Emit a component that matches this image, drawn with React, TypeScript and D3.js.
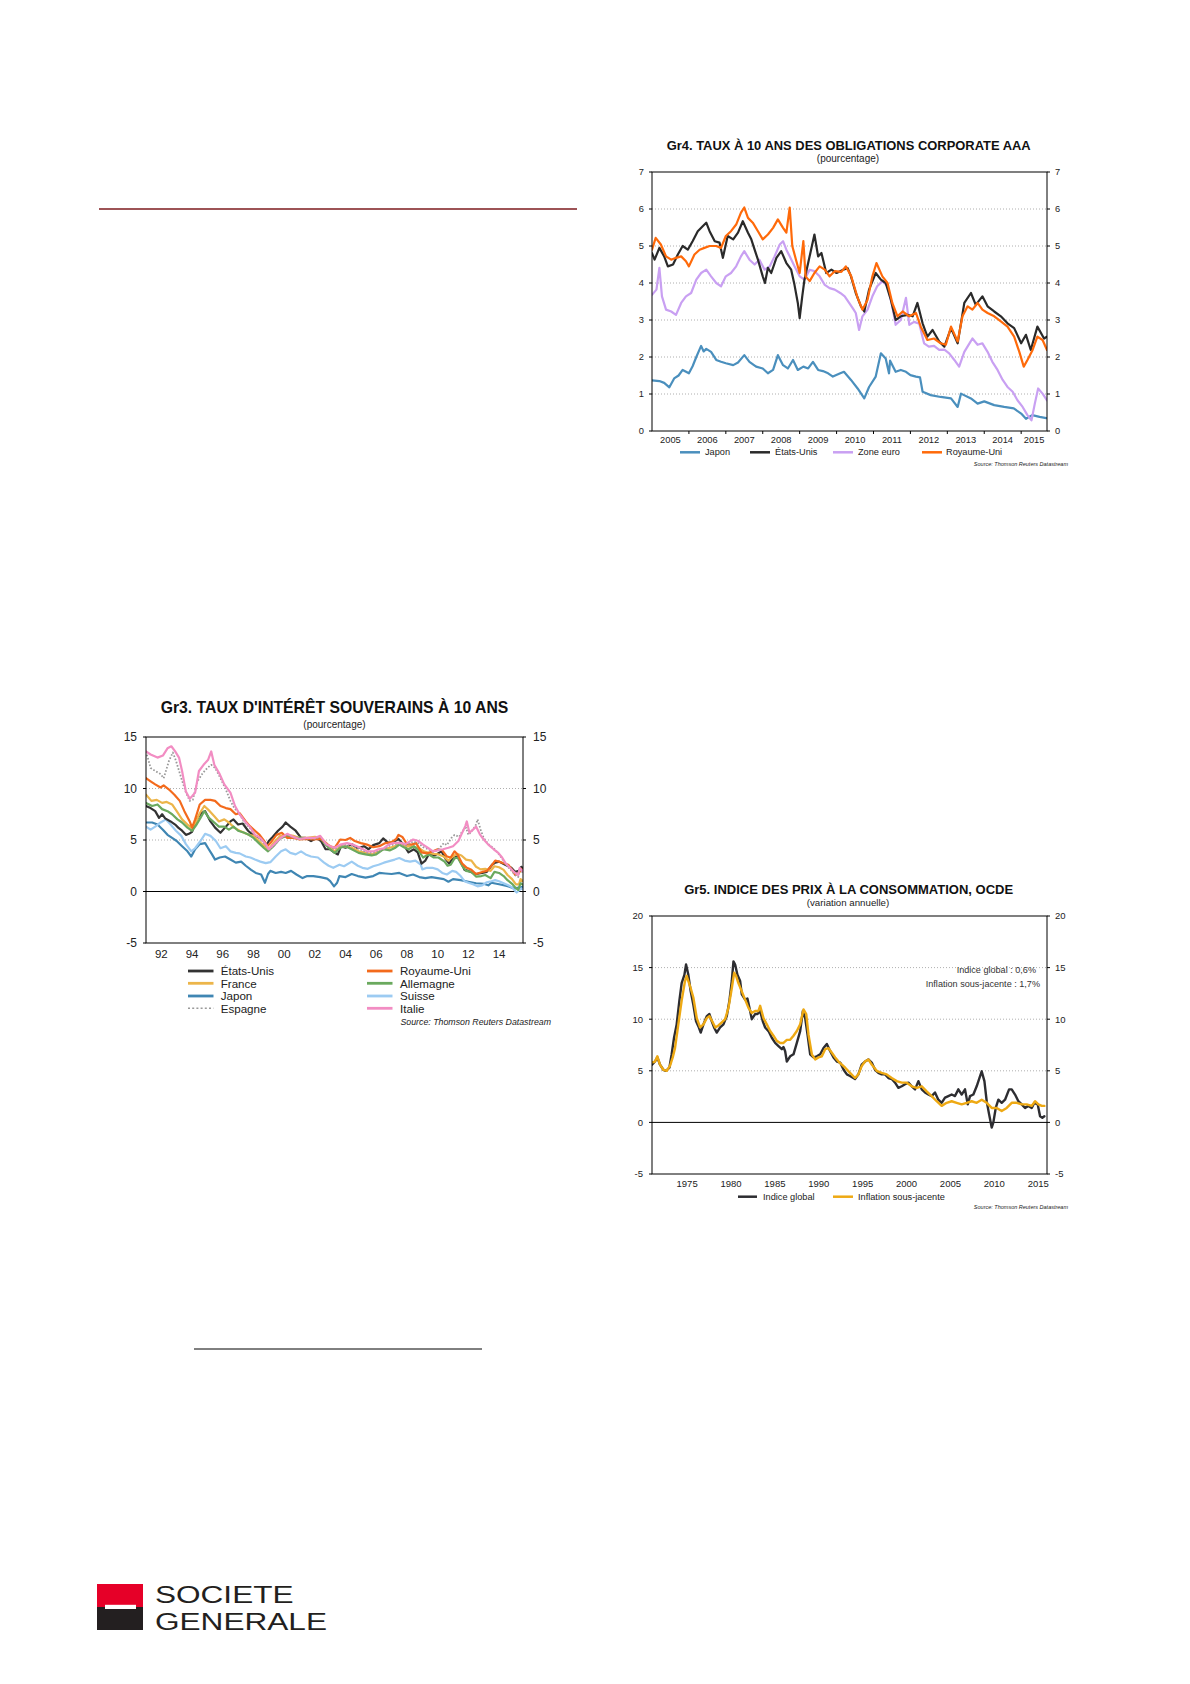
import React from 'react';
import * as d3 from 'd3';

type Pt = [number, number];
const FONT = '"Liberation Sans", Arial, Helvetica, sans-serif';

// ---------------- Gr4 data ----------------
const gr4YTicks = [0, 1, 2, 3, 4, 5, 6, 7];
const gr4Years = [2005, 2006, 2007, 2008, 2009, 2010, 2011, 2012, 2013, 2014, 2015];
const gr4Japon: Pt[] = [[2005.0,1.37],[2005.2,1.35],[2005.33,1.3],[2005.47,1.18],[2005.6,1.42],[2005.72,1.5],[2005.83,1.65],[2006.0,1.56],[2006.1,1.75],[2006.2,2.0],[2006.33,2.3],[2006.4,2.15],[2006.47,2.22],[2006.6,2.14],[2006.74,1.92],[2006.87,1.87],[2007.0,1.83],[2007.2,1.78],[2007.33,1.85],[2007.5,2.05],[2007.64,1.87],[2007.82,1.74],[2008.0,1.69],[2008.14,1.56],[2008.28,1.65],[2008.41,2.05],[2008.55,1.78],[2008.68,1.69],[2008.82,1.92],[2008.95,1.65],[2009.1,1.74],[2009.23,1.69],[2009.36,1.87],[2009.5,1.65],[2009.63,1.62],[2009.77,1.56],[2009.9,1.47],[2010.1,1.56],[2010.2,1.6],[2010.39,1.38],[2010.57,1.15],[2010.75,0.88],[2010.88,1.19],[2011.06,1.47],[2011.2,2.1],[2011.33,1.96],[2011.42,1.56],[2011.45,1.9],[2011.6,1.6],[2011.74,1.65],[2011.88,1.6],[2012.0,1.51],[2012.15,1.47],[2012.26,1.45],[2012.33,1.06],[2012.55,0.97],[2012.82,0.92],[2013.1,0.88],[2013.28,0.65],[2013.37,1.01],[2013.64,0.88],[2013.82,0.74],[2014.0,0.8],[2014.27,0.7],[2014.54,0.65],[2014.8,0.61],[2015.0,0.47],[2015.13,0.33],[2015.3,0.43],[2015.5,0.38],[2015.68,0.35]];
const gr4EtatsUnis: Pt[] = [[2005.0,4.81],[2005.07,4.63],[2005.2,4.95],[2005.33,4.72],[2005.43,4.45],[2005.57,4.5],[2005.7,4.77],[2005.83,5.0],[2005.97,4.9],[2006.1,5.13],[2006.24,5.4],[2006.38,5.54],[2006.47,5.63],[2006.56,5.4],[2006.7,5.13],[2006.83,5.09],[2006.92,4.68],[2007.05,5.27],[2007.2,5.18],[2007.33,5.36],[2007.46,5.67],[2007.6,5.36],[2007.69,5.18],[2007.78,4.9],[2007.87,4.63],[2008.0,4.18],[2008.06,4.0],[2008.14,4.41],[2008.23,4.27],[2008.37,4.68],[2008.5,4.86],[2008.64,4.54],[2008.77,4.36],[2008.86,3.95],[2008.95,3.46],[2009.0,3.05],[2009.07,3.64],[2009.13,4.09],[2009.27,4.72],[2009.4,5.31],[2009.5,4.72],[2009.59,4.81],[2009.72,4.27],[2009.86,4.36],[2010.0,4.27],[2010.18,4.36],[2010.3,4.4],[2010.39,4.18],[2010.52,3.73],[2010.66,3.37],[2010.75,3.23],[2010.88,3.82],[2011.06,4.27],[2011.2,4.09],[2011.33,4.0],[2011.47,3.55],[2011.6,3.0],[2011.74,3.1],[2011.92,3.14],[2012.06,3.1],[2012.19,3.46],[2012.33,2.91],[2012.46,2.55],[2012.6,2.73],[2012.78,2.42],[2012.92,2.28],[2013.1,2.78],[2013.28,2.37],[2013.46,3.46],[2013.64,3.73],[2013.77,3.41],[2013.95,3.64],[2014.09,3.37],[2014.27,3.23],[2014.45,3.1],[2014.63,2.91],[2014.81,2.78],[2015.0,2.37],[2015.13,2.6],[2015.26,2.19],[2015.44,2.82],[2015.62,2.5],[2015.7,2.55]];
const gr4ZoneEuro: Pt[] = [[2005.0,3.68],[2005.12,3.82],[2005.2,4.41],[2005.27,3.64],[2005.38,3.28],[2005.52,3.23],[2005.65,3.14],[2005.79,3.46],[2005.92,3.64],[2006.06,3.73],[2006.2,4.09],[2006.33,4.27],[2006.47,4.36],[2006.6,4.18],[2006.74,4.0],[2006.87,3.91],[2007.0,4.18],[2007.14,4.27],[2007.28,4.45],[2007.41,4.72],[2007.5,4.86],[2007.64,4.63],[2007.78,4.5],[2007.91,4.63],[2008.05,4.36],[2008.19,4.45],[2008.32,4.72],[2008.46,5.04],[2008.55,5.13],[2008.64,4.9],[2008.73,4.72],[2008.86,4.45],[2009.0,4.18],[2009.13,4.09],[2009.27,4.36],[2009.4,4.32],[2009.54,4.18],[2009.68,3.95],[2009.81,3.86],[2009.95,3.82],[2010.1,3.73],[2010.22,3.64],[2010.34,3.46],[2010.45,3.3],[2010.52,3.19],[2010.61,2.73],[2010.7,3.1],[2010.84,3.28],[2010.97,3.64],[2011.1,3.91],[2011.24,4.05],[2011.38,3.91],[2011.51,3.37],[2011.6,2.87],[2011.74,3.0],[2011.88,3.6],[2011.97,2.87],[2012.1,2.95],[2012.24,2.9],[2012.37,2.37],[2012.5,2.28],[2012.64,2.3],[2012.78,2.19],[2012.92,2.2],[2013.05,2.1],[2013.19,1.92],[2013.32,1.74],[2013.46,2.14],[2013.6,2.37],[2013.68,2.5],[2013.82,2.33],[2013.95,2.37],[2014.09,2.14],[2014.22,1.87],[2014.36,1.65],[2014.5,1.38],[2014.63,1.19],[2014.77,1.06],[2014.9,0.83],[2015.04,0.65],[2015.17,0.43],[2015.28,0.29],[2015.37,0.74],[2015.46,1.15],[2015.58,1.01],[2015.7,0.83]];
const gr4RoyaumeUni: Pt[] = [[2005.0,4.9],[2005.1,5.22],[2005.24,5.04],[2005.38,4.72],[2005.52,4.63],[2005.65,4.68],[2005.79,4.72],[2005.92,4.59],[2006.0,4.45],[2006.15,4.77],[2006.29,4.9],[2006.42,4.95],[2006.56,5.0],[2006.74,5.0],[2006.87,4.95],[2007.0,5.27],[2007.14,5.4],[2007.28,5.58],[2007.41,5.9],[2007.5,6.04],[2007.6,5.76],[2007.73,5.63],[2007.87,5.4],[2008.0,5.18],[2008.14,5.31],[2008.28,5.49],[2008.41,5.72],[2008.55,5.49],[2008.64,5.36],[2008.73,6.04],[2008.8,5.0],[2008.9,4.63],[2009.0,4.27],[2009.1,5.13],[2009.16,4.18],[2009.27,4.05],[2009.4,4.27],[2009.54,4.45],[2009.68,4.36],[2009.81,4.18],[2009.95,4.32],[2010.13,4.3],[2010.25,4.45],[2010.39,4.2],[2010.57,3.6],[2010.7,3.28],[2010.84,3.55],[2010.97,4.18],[2011.08,4.54],[2011.24,4.18],[2011.38,4.0],[2011.51,3.46],[2011.65,3.1],[2011.79,3.23],[2011.97,3.1],[2012.15,3.19],[2012.28,2.82],[2012.46,2.46],[2012.64,2.5],[2012.82,2.37],[2012.96,2.33],[2013.1,2.82],[2013.28,2.42],[2013.41,3.1],[2013.55,3.37],[2013.68,3.28],[2013.82,3.46],[2013.95,3.28],[2014.09,3.19],[2014.27,3.1],[2014.45,2.96],[2014.63,2.82],[2014.81,2.55],[2014.95,2.14],[2015.07,1.74],[2015.17,1.92],[2015.31,2.19],[2015.44,2.55],[2015.58,2.46],[2015.7,2.19]];

// ---------------- Gr3 data ----------------
const gr3YTicks = [-5, 0, 5, 10, 15];
const gr3XTicks = [1992, 1994, 1996, 1998, 2000, 2002, 2004, 2006, 2008, 2010, 2012, 2014];
const gr3XLabels = ['92', '94', '96', '98', '00', '02', '04', '06', '08', '10', '12', '14'];
const gr3EtatsUnis: Pt[] = [[1991.0,8.3],[1991.3,8.1],[1991.6,7.8],[1991.85,7.15],[1992.05,7.5],[1992.25,7.1],[1992.6,6.8],[1992.9,6.5],[1993.1,6.2],[1993.35,5.9],[1993.6,5.5],[1993.8,5.6],[1994.0,5.8],[1994.3,7.0],[1994.6,7.6],[1994.85,7.8],[1995.2,6.8],[1995.5,6.2],[1995.85,5.7],[1996.15,6.2],[1996.5,6.8],[1996.7,7.0],[1997.0,6.5],[1997.3,6.6],[1997.65,5.9],[1997.95,5.5],[1998.3,5.3],[1998.6,5.0],[1998.85,4.5],[1999.0,4.9],[1999.25,5.3],[1999.6,5.9],[1999.9,6.3],[2000.1,6.7],[2000.4,6.3],[2000.75,5.9],[2001.1,5.2],[2001.4,5.2],[2001.75,4.9],[2002.1,5.2],[2002.4,4.9],[2002.7,4.1],[2003.0,4.1],[2003.3,3.75],[2003.5,3.6],[2003.7,4.4],[2004.0,4.25],[2004.4,4.6],[2004.8,4.2],[2005.2,4.4],[2005.5,4.1],[2005.8,4.5],[2006.2,4.7],[2006.45,5.15],[2006.8,4.7],[2007.1,4.8],[2007.45,5.1],[2007.8,4.5],[2008.1,3.8],[2008.45,4.1],[2008.7,3.8],[2008.95,2.7],[2009.2,3.0],[2009.45,3.7],[2009.8,3.5],[2010.25,3.9],[2010.5,3.2],[2010.75,2.7],[2011.05,3.4],[2011.3,3.4],[2011.6,2.6],[2011.75,2.1],[2012.0,2.0],[2012.5,1.7],[2012.9,1.8],[2013.2,1.9],[2013.55,2.6],[2013.75,2.8],[2014.0,2.9],[2014.4,2.6],[2014.8,2.3],[2015.05,1.9],[2015.3,2.0],[2015.45,2.4],[2015.56,2.2]];
const gr3RoyaumeUni: Pt[] = [[1991.0,11.0],[1991.3,10.7],[1991.6,10.4],[1991.95,10.1],[1992.15,10.3],[1992.5,9.9],[1992.85,9.4],[1993.2,8.8],[1993.5,7.8],[1993.85,6.8],[1994.0,6.2],[1994.2,7.0],[1994.5,8.45],[1994.85,8.9],[1995.2,8.9],[1995.5,8.8],[1995.85,8.3],[1996.2,8.1],[1996.5,8.0],[1996.85,7.5],[1997.1,7.6],[1997.5,6.8],[1997.8,6.3],[1998.1,5.9],[1998.4,5.5],[1998.7,4.9],[1998.9,4.4],[1999.1,4.7],[1999.5,5.5],[1999.85,5.7],[2000.2,5.2],[2000.6,5.2],[2001.0,5.05],[2001.5,5.1],[2001.9,5.05],[2002.4,5.1],[2002.8,4.6],[2003.0,4.4],[2003.3,4.25],[2003.65,5.05],[2004.0,5.0],[2004.3,5.2],[2004.6,4.9],[2005.0,4.7],[2005.4,4.55],[2005.8,4.3],[2006.2,4.4],[2006.6,4.7],[2007.0,4.8],[2007.3,5.1],[2007.45,5.5],[2007.7,5.3],[2008.0,4.6],[2008.3,4.55],[2008.6,4.7],[2008.95,3.8],[2009.3,3.7],[2009.7,3.9],[2010.0,4.1],[2010.3,4.0],[2010.6,3.4],[2010.85,3.3],[2011.1,3.9],[2011.3,3.6],[2011.6,2.7],[2011.9,2.3],[2012.2,2.1],[2012.5,1.7],[2012.9,1.9],[2013.2,2.0],[2013.5,2.5],[2013.75,3.0],[2014.0,2.9],[2014.3,2.75],[2014.6,2.6],[2014.85,2.1],[2015.05,1.6],[2015.3,1.8],[2015.45,2.2],[2015.56,2.0]];
const gr3France: Pt[] = [[1991.0,9.4],[1991.35,8.8],[1991.7,8.9],[1992.05,8.6],[1992.35,8.7],[1992.7,8.45],[1993.0,7.8],[1993.35,7.0],[1993.7,6.5],[1993.95,6.2],[1994.2,6.6],[1994.5,7.6],[1994.8,8.3],[1995.15,7.8],[1995.45,7.3],[1995.75,6.8],[1996.1,7.0],[1996.4,6.7],[1996.75,6.2],[1997.1,5.9],[1997.4,5.7],[1997.7,5.5],[1998.0,5.4],[1998.35,4.9],[1998.7,4.4],[1999.0,4.1],[1999.3,4.7],[1999.75,5.4],[2000.2,5.5],[2000.6,5.4],[2001.0,5.2],[2001.5,5.2],[2002.0,5.3],[2002.4,5.2],[2002.8,4.6],[2003.0,4.25],[2003.3,3.9],[2003.65,4.4],[2004.0,4.35],[2004.4,4.25],[2004.85,3.9],[2005.3,3.75],[2005.7,3.6],[2006.0,3.75],[2006.45,4.1],[2006.9,4.25],[2007.35,4.45],[2007.5,4.6],[2007.8,4.4],[2008.3,4.35],[2008.75,4.25],[2009.1,3.9],[2009.4,3.75],[2009.75,3.65],[2010.05,3.6],[2010.4,3.4],[2010.7,3.0],[2010.9,3.3],[2011.25,3.65],[2011.55,3.5],[2011.85,3.1],[2012.2,3.0],[2012.5,2.4],[2012.8,2.15],[2013.1,2.2],[2013.45,2.0],[2013.7,2.45],[2014.0,2.35],[2014.3,2.1],[2014.55,1.6],[2014.85,1.2],[2015.1,0.7],[2015.3,0.7],[2015.4,1.2],[2015.56,1.0]];
const gr3Allemagne: Pt[] = [[1991.0,8.6],[1991.4,8.3],[1991.75,8.45],[1992.05,8.0],[1992.4,7.8],[1992.7,7.5],[1993.05,7.0],[1993.35,6.7],[1993.7,6.2],[1994.0,5.9],[1994.25,6.4],[1994.55,7.15],[1994.8,7.8],[1995.1,7.15],[1995.45,6.7],[1995.75,6.3],[1996.1,6.3],[1996.4,6.0],[1996.7,6.3],[1997.0,5.9],[1997.4,5.7],[1997.7,5.5],[1998.0,5.2],[1998.35,4.7],[1998.7,4.2],[1998.95,3.9],[1999.3,4.4],[1999.75,5.2],[2000.2,5.4],[2000.6,5.2],[2001.0,5.2],[2001.5,5.1],[2002.0,5.1],[2002.4,5.1],[2002.8,4.4],[2003.0,4.1],[2003.3,3.75],[2003.65,4.25],[2004.0,4.4],[2004.4,4.1],[2004.85,3.75],[2005.3,3.6],[2005.7,3.5],[2006.0,3.6],[2006.45,4.1],[2006.9,4.0],[2007.25,4.25],[2007.5,4.55],[2007.8,4.3],[2008.1,4.1],[2008.45,4.4],[2008.75,4.0],[2009.05,3.3],[2009.4,3.6],[2009.75,3.3],[2010.05,3.3],[2010.45,2.9],[2010.65,2.5],[2010.85,2.6],[2011.1,3.2],[2011.3,3.3],[2011.6,2.5],[2011.85,2.0],[2012.2,1.9],[2012.5,1.45],[2012.85,1.5],[2013.1,1.6],[2013.45,1.3],[2013.7,1.9],[2014.0,1.8],[2014.3,1.5],[2014.55,1.1],[2014.85,0.75],[2015.05,0.4],[2015.25,0.15],[2015.4,0.8],[2015.56,0.65]];
const gr3Japon: Pt[] = [[1991.0,6.7],[1991.4,6.7],[1991.75,6.5],[1992.1,6.0],[1992.4,5.5],[1992.7,5.2],[1993.0,4.9],[1993.35,4.4],[1993.7,3.9],[1993.95,3.4],[1994.2,4.1],[1994.5,4.6],[1994.85,4.7],[1995.05,4.2],[1995.3,3.6],[1995.5,3.1],[1995.8,3.3],[1996.15,3.4],[1996.5,3.1],[1996.85,2.8],[1997.2,2.9],[1997.5,2.5],[1997.85,2.1],[1998.15,1.8],[1998.5,1.65],[1998.75,0.85],[1998.95,1.7],[1999.1,2.0],[1999.45,1.8],[1999.8,1.9],[2000.1,1.8],[2000.45,2.0],[2000.8,1.65],[2001.2,1.3],[2001.5,1.5],[2001.9,1.5],[2002.35,1.4],[2002.8,1.25],[2003.0,1.0],[2003.25,0.5],[2003.45,0.85],[2003.6,1.5],[2004.0,1.4],[2004.4,1.7],[2004.8,1.5],[2005.3,1.35],[2005.8,1.5],[2006.2,1.8],[2006.6,1.75],[2007.0,1.7],[2007.5,1.8],[2008.0,1.5],[2008.4,1.65],[2008.8,1.4],[2009.2,1.3],[2009.6,1.4],[2010.0,1.3],[2010.4,1.2],[2010.7,0.95],[2011.0,1.2],[2011.5,1.1],[2012.0,0.95],[2012.5,0.8],[2013.0,0.75],[2013.3,0.6],[2013.5,0.85],[2014.0,0.7],[2014.5,0.55],[2014.9,0.35],[2015.05,0.3],[2015.2,0.35],[2015.4,0.4],[2015.56,0.45]];
const gr3Suisse: Pt[] = [[1991.0,6.3],[1991.3,6.0],[1991.6,6.3],[1991.95,6.7],[1992.3,7.0],[1992.6,6.5],[1992.95,5.9],[1993.3,5.4],[1993.6,4.6],[1993.95,3.9],[1994.2,4.2],[1994.55,4.9],[1994.85,5.6],[1995.2,5.4],[1995.55,4.9],[1995.85,4.2],[1996.2,4.4],[1996.5,3.9],[1996.85,3.75],[1997.1,3.7],[1997.5,3.4],[1997.8,3.3],[1998.1,3.1],[1998.45,2.9],[1998.8,2.75],[1999.1,2.85],[1999.45,3.4],[1999.8,3.9],[2000.1,4.1],[2000.4,3.75],[2000.75,3.6],[2001.1,3.9],[2001.4,3.6],[2001.75,3.4],[2002.2,3.3],[2002.6,2.8],[2002.9,2.5],[2003.2,2.3],[2003.6,2.6],[2003.9,2.45],[2004.4,2.9],[2004.8,2.5],[2005.1,2.3],[2005.45,2.2],[2005.8,2.45],[2006.15,2.6],[2006.5,2.8],[2006.85,2.95],[2007.2,3.1],[2007.5,3.25],[2007.85,3.0],[2008.2,2.9],[2008.55,3.0],[2008.9,2.6],[2009.0,2.15],[2009.3,2.3],[2009.65,2.3],[2010.0,2.15],[2010.3,1.8],[2010.6,1.65],[2010.95,2.0],[2011.2,1.9],[2011.5,1.5],[2011.75,1.0],[2012.0,0.85],[2012.3,0.7],[2012.6,0.5],[2012.9,0.6],[2013.2,0.9],[2013.5,1.0],[2013.75,1.1],[2014.0,1.0],[2014.3,0.8],[2014.6,0.6],[2014.85,0.4],[2015.05,0.05],[2015.15,-0.1],[2015.3,0.1],[2015.45,0.3],[2015.56,0.2]];
const gr3Espagne: Pt[] = [[1991.0,13.6],[1991.3,12.0],[1991.6,11.7],[1991.95,11.4],[1992.15,11.0],[1992.5,12.7],[1992.75,13.5],[1992.95,12.7],[1993.3,11.0],[1993.6,9.6],[1993.85,8.8],[1994.05,8.9],[1994.35,10.7],[1994.7,11.5],[1995.0,12.0],[1995.25,12.3],[1995.5,12.0],[1995.85,11.0],[1996.2,9.9],[1996.5,8.8],[1996.75,8.1],[1997.1,7.5],[1997.4,6.7],[1997.8,6.1],[1998.1,5.5],[1998.45,5.1],[1998.8,4.5],[1999.0,4.0],[1999.35,4.5],[1999.75,5.1],[2000.2,5.5],[2000.6,5.25],[2001.0,5.05],[2001.5,5.15],[2002.0,5.1],[2002.35,5.3],[2002.75,4.5],[2003.0,4.3],[2003.3,4.1],[2003.65,4.45],[2004.1,4.55],[2004.5,4.4],[2004.95,4.1],[2005.4,3.75],[2005.85,3.75],[2006.15,3.95],[2006.5,4.1],[2006.8,4.4],[2007.1,4.55],[2007.5,4.6],[2007.9,4.45],[2008.4,4.85],[2008.75,4.7],[2009.05,4.3],[2009.4,4.1],[2009.7,3.85],[2010.0,4.0],[2010.4,4.7],[2010.6,4.5],[2010.9,5.2],[2011.1,5.5],[2011.4,5.3],[2011.6,5.85],[2011.85,6.2],[2012.0,5.5],[2012.3,6.0],[2012.5,6.5],[2012.6,7.0],[2012.8,6.0],[2013.0,5.2],[2013.3,4.6],[2013.65,4.2],[2013.95,3.7],[2014.2,3.2],[2014.4,2.7],[2014.7,2.2],[2015.05,1.6],[2015.25,1.4],[2015.35,2.1],[2015.5,1.9],[2015.56,2.0]];
const gr3Italie: Pt[] = [[1991.0,13.6],[1991.3,13.3],[1991.75,13.0],[1992.1,13.2],[1992.4,13.9],[1992.65,14.1],[1992.9,13.6],[1993.15,13.0],[1993.35,11.7],[1993.6,9.7],[1993.85,9.0],[1994.0,9.25],[1994.2,9.6],[1994.45,11.7],[1994.75,12.3],[1995.05,12.8],[1995.25,13.6],[1995.45,12.3],[1995.8,11.4],[1996.1,10.4],[1996.5,9.6],[1996.8,8.3],[1997.1,7.5],[1997.45,6.8],[1997.8,6.2],[1998.1,5.5],[1998.45,5.2],[1998.8,4.6],[1999.0,4.1],[1999.35,4.6],[1999.75,5.2],[2000.2,5.6],[2000.6,5.3],[2001.0,5.1],[2001.5,5.2],[2002.0,5.2],[2002.35,5.4],[2002.75,4.6],[2003.0,4.4],[2003.3,4.25],[2003.65,4.55],[2004.1,4.7],[2004.5,4.55],[2004.95,4.25],[2005.4,3.9],[2005.85,3.9],[2006.15,4.1],[2006.5,4.2],[2006.8,4.55],[2007.1,4.7],[2007.5,4.75],[2007.9,4.6],[2008.4,5.05],[2008.75,4.9],[2009.05,4.55],[2009.4,4.2],[2009.7,3.9],[2010.0,4.0],[2010.35,4.1],[2010.7,4.25],[2011.0,4.4],[2011.35,4.9],[2011.55,5.55],[2011.8,6.35],[2011.9,6.8],[2012.07,5.7],[2012.3,6.0],[2012.5,6.3],[2012.75,5.55],[2013.0,5.05],[2013.3,4.55],[2013.65,4.1],[2013.95,3.75],[2014.2,3.3],[2014.4,2.8],[2014.7,2.3],[2015.05,1.8],[2015.25,1.6],[2015.35,2.3],[2015.5,2.0],[2015.56,2.1]];

// ---------------- Gr5 data ----------------
const gr5YTicks = [-5, 0, 5, 10, 15, 20];
const gr5XTicks = [1975, 1980, 1985, 1990, 1995, 2000, 2005, 2010, 2015];
const gr5IndiceGlobal: Pt[] = [[1971.0,5.6],[1971.34,5.9],[1971.61,6.3],[1971.91,5.6],[1972.29,5.1],[1972.6,5.0],[1972.98,5.3],[1973.24,6.6],[1973.51,8.2],[1973.81,9.5],[1974.12,11.8],[1974.38,13.5],[1974.69,14.3],[1974.88,15.3],[1975.14,14.3],[1975.41,12.7],[1975.71,11.4],[1976.02,9.8],[1976.29,9.3],[1976.55,8.7],[1976.86,9.5],[1977.24,10.3],[1977.54,10.5],[1977.81,9.8],[1978.07,9.2],[1978.38,8.7],[1978.76,9.2],[1979.14,9.5],[1979.52,10.3],[1979.82,11.8],[1980.09,13.7],[1980.28,15.6],[1980.47,15.3],[1980.73,14.3],[1981.04,13.7],[1981.23,12.4],[1981.61,11.9],[1981.87,12.0],[1982.18,10.8],[1982.37,10.0],[1982.75,10.5],[1983.02,10.5],[1983.32,10.8],[1983.62,9.8],[1983.89,9.2],[1984.27,8.85],[1984.65,8.2],[1985.03,7.7],[1985.41,7.4],[1985.79,7.1],[1985.98,7.3],[1986.17,6.9],[1986.36,5.9],[1986.74,6.4],[1987.12,6.6],[1987.5,7.7],[1987.88,8.85],[1988.19,10.8],[1988.45,10.1],[1988.72,8.5],[1989.02,6.6],[1989.4,6.3],[1989.78,6.4],[1990.16,6.6],[1990.54,7.2],[1990.92,7.6],[1991.3,6.9],[1991.68,6.3],[1992.06,5.9],[1992.44,5.8],[1992.83,5.1],[1993.2,4.65],[1993.56,4.5],[1994.13,4.2],[1994.51,4.65],[1994.89,5.6],[1995.27,5.9],[1995.65,6.1],[1996.03,5.8],[1996.41,5.1],[1996.79,4.8],[1997.17,4.65],[1997.55,4.65],[1997.93,4.3],[1998.31,4.2],[1998.69,3.85],[1999.07,3.35],[1999.45,3.5],[1999.83,3.7],[2000.21,3.85],[2000.59,3.5],[2000.97,3.2],[2001.35,4.0],[2001.73,3.2],[2002.1,2.9],[2002.48,2.7],[2002.86,2.55],[2003.24,2.9],[2003.62,2.2],[2004.0,1.9],[2004.38,2.4],[2004.76,2.55],[2005.14,2.7],[2005.52,2.55],[2005.9,3.2],[2006.28,2.7],[2006.66,3.2],[2006.97,1.75],[2007.23,2.55],[2007.61,2.7],[2007.99,3.5],[2008.3,4.3],[2008.56,4.95],[2008.87,4.0],[2009.13,2.05],[2009.4,0.8],[2009.7,-0.5],[2009.89,0.0],[2010.16,1.4],[2010.46,2.2],[2010.84,1.9],[2011.22,2.2],[2011.68,3.2],[2011.98,3.2],[2012.36,2.7],[2012.74,2.05],[2013.12,1.75],[2013.5,1.4],[2013.88,1.6],[2014.26,1.4],[2014.56,1.9],[2014.94,1.75],[2015.21,0.6],[2015.47,0.45],[2015.7,0.6]];
const gr5InflationSJ: Pt[] = [[1971.0,5.8],[1971.34,5.9],[1971.61,6.4],[1971.91,5.6],[1972.29,5.1],[1972.68,5.0],[1973.06,5.5],[1973.36,6.3],[1973.62,7.2],[1974.0,9.5],[1974.38,11.8],[1974.76,13.7],[1974.95,14.2],[1975.14,13.7],[1975.41,13.0],[1975.71,12.1],[1976.1,10.1],[1976.48,9.2],[1976.86,9.5],[1977.24,10.1],[1977.54,10.3],[1977.92,9.7],[1978.22,9.2],[1978.57,9.4],[1978.95,9.7],[1979.33,10.0],[1979.71,11.1],[1980.09,13.0],[1980.36,14.5],[1980.58,14.2],[1980.84,13.5],[1981.23,12.7],[1981.61,11.9],[1981.99,11.1],[1982.37,10.6],[1982.75,10.8],[1983.13,10.8],[1983.32,11.3],[1983.7,10.1],[1984.08,9.5],[1984.46,8.85],[1984.84,8.4],[1985.22,7.9],[1985.6,7.7],[1985.98,7.7],[1986.36,8.0],[1986.74,8.0],[1987.12,8.4],[1987.5,8.85],[1987.88,9.5],[1988.26,10.95],[1988.57,10.5],[1988.83,8.5],[1989.21,6.6],[1989.59,6.1],[1989.97,6.3],[1990.35,6.4],[1990.73,7.1],[1991.11,7.2],[1991.49,6.75],[1991.87,6.3],[1992.25,5.9],[1992.63,5.6],[1993.01,5.3],[1993.56,4.8],[1994.13,4.3],[1994.51,4.65],[1994.89,5.45],[1995.27,5.9],[1995.65,6.1],[1996.03,5.6],[1996.6,5.0],[1997.17,4.8],[1997.74,4.65],[1998.31,4.3],[1998.88,4.0],[1999.45,3.85],[2000.02,3.85],[2000.59,3.5],[2001.16,3.35],[2001.73,3.5],[2002.29,3.0],[2002.86,2.55],[2003.43,2.05],[2004.0,1.6],[2004.57,1.9],[2005.14,2.05],[2005.71,1.9],[2006.28,1.75],[2006.85,1.9],[2007.42,2.05],[2007.99,1.9],[2008.56,2.2],[2009.13,1.9],[2009.7,1.4],[2010.27,1.4],[2010.84,1.1],[2011.41,1.4],[2011.98,1.9],[2012.55,1.9],[2013.12,1.75],[2013.69,1.75],[2014.26,1.6],[2014.64,2.05],[2015.02,1.75],[2015.4,1.6],[2015.7,1.6]];

// ---------------- generic chart ----------------
type Series = { data: Pt[]; color: string; width: number; dash?: string };
type ChartProps = {
  id: string;
  x0: number; x1: number; yTop: number; yBottom: number;
  xDomain: [number, number]; yDomain: [number, number];
  series: Series[];
  grid: number[]; zero?: boolean;
  yTicks: number[]; leftLabelX: number; rightLabelX: number; tickFont: number;
  xLabels: { v: number; text: string }[]; xLabelY: number; xLabelFont: number;
  xTickMarks?: number[]; yTickLen: number;
};

function LineChart(p: ChartProps) {
  const x = d3.scaleLinear().domain(p.xDomain).range([p.x0, p.x1]);
  const y = d3.scaleLinear().domain(p.yDomain).range([p.yBottom, p.yTop]);
  const line = d3.line<Pt>().x(d => x(d[0])).y(d => y(d[1]));
  return (
    <g fontFamily={FONT}>
      {p.grid.map(g => (
        <line key={'g' + g} x1={p.x0} x2={p.x1} y1={y(g)} y2={y(g)} stroke="#9a9a9a" strokeWidth={0.8} strokeDasharray="1,2" />
      ))}
      {p.zero && <line x1={p.x0} x2={p.x1} y1={y(0)} y2={y(0)} stroke="#000" strokeWidth={1} />}
      <clipPath id={'clip' + p.id}>
        <rect x={p.x0} y={p.yTop} width={p.x1 - p.x0} height={p.yBottom - p.yTop} />
      </clipPath>
      <g clipPath={`url(#clip${p.id})`}>
        {p.series.map((s, i) => (
          <path key={i} d={line(s.data) || ''} fill="none" stroke={s.color} strokeWidth={s.width}
            strokeDasharray={s.dash} strokeLinejoin="round" strokeLinecap={s.dash ? 'butt' : 'round'} />
        ))}
      </g>
      <rect x={p.x0} y={p.yTop} width={p.x1 - p.x0} height={p.yBottom - p.yTop} fill="none" stroke="#000" strokeWidth={1} />
      {p.yTicks.map(t => (
        <g key={'yt' + t}>
          <line x1={p.x0 - p.yTickLen} x2={p.x0} y1={y(t)} y2={y(t)} stroke="#000" strokeWidth={1} />
          <line x1={p.x1} x2={p.x1 + p.yTickLen} y1={y(t)} y2={y(t)} stroke="#000" strokeWidth={1} />
          <text x={p.leftLabelX} y={y(t) + p.tickFont * 0.36} textAnchor="end" fontSize={p.tickFont} fill="#222">{t}</text>
          <text x={p.rightLabelX} y={y(t) + p.tickFont * 0.36} textAnchor="start" fontSize={p.tickFont} fill="#222">{t}</text>
        </g>
      ))}
      {(p.xTickMarks || []).map(t => (
        <line key={'xt' + t} x1={x(t)} x2={x(t)} y1={p.yBottom} y2={p.yBottom + 3} stroke="#000" strokeWidth={1} />
      ))}
      {p.xLabels.map(l => (
        <text key={'xl' + l.text} x={x(l.v)} y={p.xLabelY} textAnchor="middle" fontSize={p.xLabelFont} fill="#222">{l.text}</text>
      ))}
    </g>
  );
}

function Title(props: { cx: number; y: number; w: number; size: number; text: string }) {
  return (
    <text x={props.cx} y={props.y} textAnchor="middle" fontFamily={FONT} fontWeight="bold" fontSize={props.size}
      textLength={props.w} lengthAdjust="spacingAndGlyphs" fill="#111">{props.text}</text>
  );
}

function Sub(props: { cx: number; y: number; size: number; text: string }) {
  return <text x={props.cx} y={props.y} textAnchor="middle" fontFamily={FONT} fontSize={props.size} fill="#222">{props.text}</text>;
}

export default function App() {
  const gr4Dom: [number, number] = [2005, 2015.7];
  const gr4XLabels = gr4Years.map(yv => ({ v: (Math.max(yv, gr4Dom[0]) + Math.min(yv + 1, gr4Dom[1])) / 2, text: String(yv) }));
  const gr4Colors = { jp: '#4a8fbd', us: '#2a2a2a', eu: '#c9a0f2', uk: '#ff6a0a' };
  const gr4Legend = [
    { name: 'Japon', color: gr4Colors.jp, lx: 680, tx: 705 },
    { name: 'États-Unis', color: gr4Colors.us, lx: 750, tx: 775 },
    { name: 'Zone euro', color: gr4Colors.eu, lx: 833, tx: 858 },
    { name: 'Royaume-Uni', color: gr4Colors.uk, lx: 922, tx: 946 },
  ];

  const gr3Colors = {
    us: '#333333', uk: '#f36a1c', fr: '#ecb54a', de: '#6aa95e', jp: '#3f86b3', ch: '#9ccbf2', es: '#9a9a9a', it: '#f28dc3',
  };
  const gr3Legend = [
    { name: 'États-Unis', color: gr3Colors.us, col: 0, row: 0 },
    { name: 'France', color: gr3Colors.fr, col: 0, row: 1 },
    { name: 'Japon', color: gr3Colors.jp, col: 0, row: 2 },
    { name: 'Espagne', color: gr3Colors.es, col: 0, row: 3, dash: true },
    { name: 'Royaume-Uni', color: gr3Colors.uk, col: 1, row: 0 },
    { name: 'Allemagne', color: gr3Colors.de, col: 1, row: 1 },
    { name: 'Suisse', color: gr3Colors.ch, col: 1, row: 2 },
    { name: 'Italie', color: gr3Colors.it, col: 1, row: 3 },
  ];
  const gr3RowY = [971, 983.3, 996, 1008.3];

  const gr5Black = '#2d2d31';
  const gr5Gold = '#eea913';

  return (
    <svg width={1190} height={1684} viewBox="0 0 1190 1684" style={{ position: 'absolute', left: 0, top: 0, background: '#fff' }}>
      <rect x={0} y={0} width={1190} height={1684} fill="#fff" />

      {/* page rules */}
      <line x1={99} x2={577} y1={209} y2={209} stroke="#7d1a1e" strokeWidth={1.3} />
      <line x1={194} x2={482} y1={1349} y2={1349} stroke="#000" strokeWidth={1} />

      {/* ---------- Gr4 ---------- */}
      <Title cx={848.7} y={149.5} w={364} size={13} text="Gr4. TAUX À 10 ANS DES OBLIGATIONS CORPORATE AAA" />
      <Sub cx={848} y={162} size={10} text="(pourcentage)" />
      <LineChart
        id="gr4"
        x0={652} x1={1047} yTop={172} yBottom={431}
        xDomain={gr4Dom} yDomain={[0, 7]}
        series={[
          { data: gr4Japon, color: gr4Colors.jp, width: 2.2 },
          { data: gr4ZoneEuro, color: gr4Colors.eu, width: 2.2 },
          { data: gr4EtatsUnis, color: gr4Colors.us, width: 2.2 },
          { data: gr4RoyaumeUni, color: gr4Colors.uk, width: 2.2 },
        ]}
        grid={[1, 2, 3, 4, 5, 6]}
        yTicks={gr4YTicks} leftLabelX={644} rightLabelX={1055} tickFont={9.3}
        xLabels={gr4XLabels} xLabelY={443} xLabelFont={9.3}
        xTickMarks={gr4Years.slice(1)} yTickLen={3}
      />
      {gr4Legend.map(l => (
        <g key={l.name} fontFamily={FONT}>
          <line x1={l.lx} x2={l.lx + 20} y1={452.3} y2={452.3} stroke={l.color} strokeWidth={2.5} />
          <text x={l.tx} y={455.3} fontSize={9.2} fill="#222">{l.name}</text>
        </g>
      ))}
      <text x={1068} y={465.5} textAnchor="end" fontFamily={FONT} fontStyle="italic" fontSize={5.5} fill="#222">Source: Thomson Reuters Datastream</text>

      {/* ---------- Gr3 ---------- */}
      <Title cx={334.5} y={713.3} w={347.6} size={15.7} text="Gr3. TAUX D'INTÉRÊT SOUVERAINS À 10 ANS" />
      <Sub cx={334.5} y={727.7} size={10} text="(pourcentage)" />
      <LineChart
        id="gr3"
        x0={146} x1={523} yTop={737} yBottom={943}
        xDomain={[1991, 2015.56]} yDomain={[-5, 15]}
        series={[
          { data: gr3Japon, color: gr3Colors.jp, width: 2.2 },
          { data: gr3Suisse, color: gr3Colors.ch, width: 2.2 },
          { data: gr3EtatsUnis, color: gr3Colors.us, width: 2.2 },
          { data: gr3France, color: gr3Colors.fr, width: 2.2 },
          { data: gr3Allemagne, color: gr3Colors.de, width: 2.2 },
          { data: gr3RoyaumeUni, color: gr3Colors.uk, width: 2.2 },
          { data: gr3Espagne, color: gr3Colors.es, width: 1.8, dash: '1.6,1.8' },
          { data: gr3Italie, color: gr3Colors.it, width: 2.2 },
        ]}
        grid={[5, 10]} zero
        yTicks={gr3YTicks} leftLabelX={137} rightLabelX={533} tickFont={12}
        xLabels={gr3XTicks.map((v, i) => ({ v, text: gr3XLabels[i] }))} xLabelY={958} xLabelFont={11.5}
        yTickLen={3}
      />
      {gr3Legend.map(l => {
        const lx = l.col === 0 ? 188 : 367;
        const tx = l.col === 0 ? 220.7 : 400;
        const yy = gr3RowY[l.row];
        return (
          <g key={l.name} fontFamily={FONT}>
            <line x1={lx} x2={lx + 25.5} y1={yy} y2={yy} stroke={l.color} strokeWidth={l.dash ? 1.6 : 2.8}
              strokeDasharray={l.dash ? '2,2.2' : undefined} />
            <text x={tx} y={yy + 4.2} fontSize={11.6} fill="#222">{l.name}</text>
          </g>
        );
      })}
      <text x={551} y={1025} textAnchor="end" fontFamily={FONT} fontStyle="italic" fontSize={8.8} fill="#222">Source: Thomson Reuters Datastream</text>

      {/* ---------- Gr5 ---------- */}
      <Title cx={848.7} y={894} w={329} size={13} text="Gr5. INDICE DES PRIX À LA CONSOMMATION, OCDE" />
      <Sub cx={848} y={906} size={9.7} text="(variation annuelle)" />
      <LineChart
        id="gr5"
        x0={652} x1={1047} yTop={916} yBottom={1174}
        xDomain={[1971, 2016]} yDomain={[-5, 20]}
        series={[
          { data: gr5IndiceGlobal, color: gr5Black, width: 2.4 },
          { data: gr5InflationSJ, color: gr5Gold, width: 2.4 },
        ]}
        grid={[5, 10, 15]} zero
        yTicks={gr5YTicks} leftLabelX={643} rightLabelX={1055} tickFont={9.5}
        xLabels={gr5XTicks.map(v => ({ v, text: String(v) }))} xLabelY={1187} xLabelFont={9.5}
        yTickLen={3}
      />
      <text x={1036} y={972.5} textAnchor="end" fontFamily={FONT} fontSize={9.1} fill="#333">Indice global : 0,6%</text>
      <text x={1040} y={987} textAnchor="end" fontFamily={FONT} fontSize={9.1} fill="#333">Inflation sous-jacente : 1,7%</text>
      <g fontFamily={FONT}>
        <line x1={738} x2={757} y1={1196.7} y2={1196.7} stroke={gr5Black} strokeWidth={2.5} />
        <text x={763} y={1200} fontSize={9.2} fill="#222">Indice global</text>
        <line x1={833} x2={853} y1={1196.7} y2={1196.7} stroke={gr5Gold} strokeWidth={2.5} />
        <text x={858} y={1200} fontSize={9.2} fill="#222">Inflation sous-jacente</text>
      </g>
      <text x={1068} y={1209} textAnchor="end" fontFamily={FONT} fontStyle="italic" fontSize={5.5} fill="#222">Source: Thomson Reuters Datastream</text>

      {/* ---------- logo ---------- */}
      <rect x={97} y={1584} width={46} height={23} fill="#e60028" />
      <rect x={97} y={1607} width={46} height={23} fill="#231f20" />
      <rect x={105} y={1604.8} width={31} height={4.2} fill="#fff" />
      <text x={155} y={1603} fontFamily={FONT} fontSize={23.5} fill="#231f20" textLength={138.5} lengthAdjust="spacingAndGlyphs">SOCIETE</text>
      <text x={155} y={1630} fontFamily={FONT} fontSize={23.5} fill="#231f20" textLength={172} lengthAdjust="spacingAndGlyphs">GENERALE</text>
    </svg>
  );
}
